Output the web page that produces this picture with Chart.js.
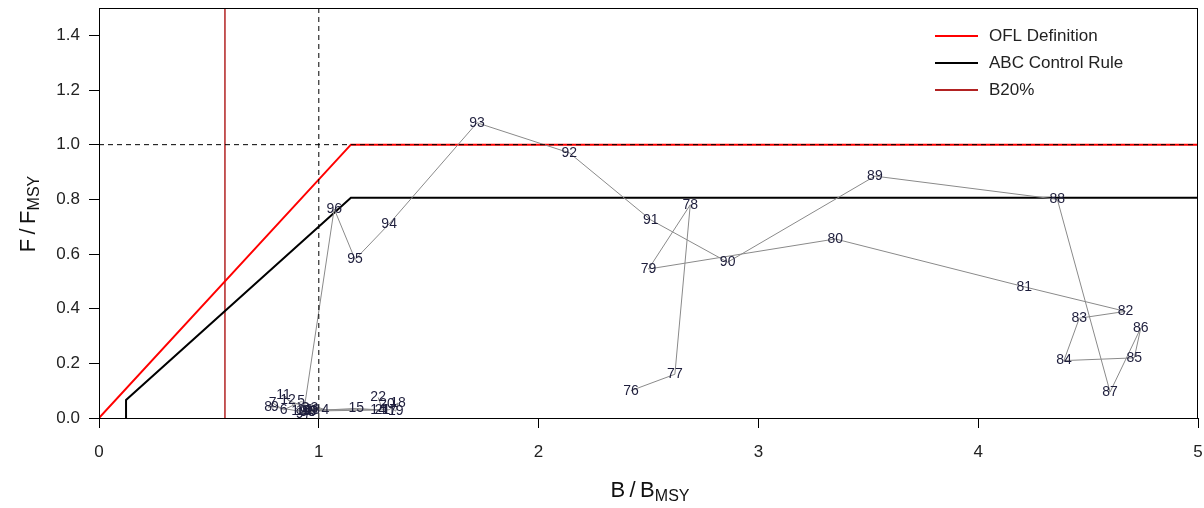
<!DOCTYPE html>
<html>
<head>
<meta charset="utf-8">
<script src="https://cdn.jsdelivr.net/npm/chart.js@4.4.1/dist/chart.umd.min.js"></script>
<style>
html,body{margin:0;padding:0;background:#fff;}
#wrap{width:1204px;height:508px;position:relative;}
</style>
</head>
<body>
<div id="wrap"><canvas id="c"></canvas></div>
<script>
// ---- data ----
const yearLabels = ['76','77','78','79','80','81','82','83','84','85','86','87','88','89','90','91','92','93','94','95','96','97','98','99',
  '0','1','2','3','4','5','6','7','8','9','10','11','12','13','14','15','16','17','18','19','20','21','22'];
const bRatio = [2.42,2.62,2.69,2.50,3.35,4.21,4.67,4.46,4.39,4.71,4.74,4.60,4.36,3.53,2.86,2.51,2.14,1.72,1.32,1.165,1.07,0.93,0.95,0.96,
  0.97,0.96,0.94,0.98,1.03,0.92,0.84,0.79,0.77,0.80,0.91,0.84,0.86,0.97,1.27,1.17,0.93,1.32,1.36,1.35,1.31,1.29,1.27];
const fRatio = [0.10,0.16,0.78,0.545,0.655,0.48,0.39,0.365,0.21,0.22,0.33,0.095,0.80,0.885,0.57,0.725,0.97,1.08,0.71,0.58,0.765,0.015,0.02,0.025,
  0.02,0.03,0.035,0.035,0.03,0.06,0.03,0.055,0.04,0.04,0.025,0.085,0.065,0.03,0.03,0.035,0.025,0.03,0.055,0.025,0.05,0.03,0.075];
const oflB = [0, 1.146, 5];
const oflF = [0, 1.0, 1.0];
const abcB = [0.123, 0.123, 1.146, 5];
const abcF = [0, 0.066, 0.806, 0.806];
const b20 = 0.573;
const xTicks = [0,1,2,3,4,5];
const yTicks = [0,0.2,0.4,0.6,0.8,1.0,1.2,1.4];
const legendItems = [
  {label:'OFL Definition', color:'#FF0000'},
  {label:'ABC Control Rule', color:'#000000'},
  {label:'B20%', color:'#B22222'}
];

const zip = (xs, ys) => xs.map((x,i)=>({x:x, y:ys[i]}));
const FONT = '"Liberation Sans", Arial, sans-serif';

const labelPlugin = {
  id:'labels',
  afterDatasetsDraw(chart){
    const ctx = chart.ctx, xs = chart.scales.x, ys = chart.scales.y;
    ctx.save();
    ctx.font = '14px ' + FONT;
    ctx.fillStyle = '#1e1e3c';
    ctx.textAlign = 'center';
    ctx.textBaseline = 'middle';
    yearLabels.forEach((t,i)=>{
      ctx.fillText(t, xs.getPixelForValue(bRatio[i]), ys.getPixelForValue(fRatio[i]));
    });
    ctx.restore();
  },
  afterDraw(chart){
    const ctx = chart.ctx, a = chart.chartArea;
    ctx.save();
    // box
    ctx.strokeStyle = '#000'; ctx.lineWidth = 1;
    ctx.strokeRect(a.left+0.5, a.top+0.5, a.right-a.left-1, a.bottom-a.top);
    // legend
    ctx.font = '17px ' + FONT;
    ctx.textBaseline = 'middle';
    ctx.textAlign = 'left';
    legendItems.forEach((it,i)=>{
      const y = 36 + i*27;
      ctx.strokeStyle = it.color; ctx.lineWidth = 2;
      ctx.beginPath(); ctx.moveTo(935,y); ctx.lineTo(978,y); ctx.stroke();
      ctx.fillStyle = '#222';
      ctx.fillText(it.label, 989, y);
    });
    // axis titles
    function title(main, sub, big, small){
      const fb = big + 'px ' + FONT, fs = small + 'px ' + FONT;
      ctx.font = fb; const w1 = ctx.measureText(main).width;
      ctx.font = fs; const w2 = ctx.measureText(sub).width;
      return {w:w1+w2, draw(x0, y){
        ctx.font = fb; ctx.fillText(main, x0, y);
        ctx.font = fs; ctx.fillText(sub, x0+w1, y+6);
      }};
    }
    ctx.fillStyle = '#111';
    ctx.textBaseline = 'middle';
    let t = title('B\u2009/\u2009B', 'MSY', 22, 16);
    t.draw(650 - t.w/2, 491);
    ctx.save();
    ctx.translate(29, 214);
    ctx.rotate(-Math.PI/2);
    t = title('F\u2009/\u2009F', 'MSY', 22, 16);
    t.draw(-t.w/2, 0);
    ctx.restore();
    ctx.restore();
  }
};

new Chart(document.getElementById('c'), {
  type:'scatter',
  data:{
    datasets:[
      {data: zip([0,5],[1,1]), showLine:true, borderColor:'#000', borderWidth:1, borderDash:[5,4], pointRadius:0},
      {data: zip([1,1],[0,1.5]), showLine:true, borderColor:'#000', borderWidth:1, borderDash:[5,4], pointRadius:0},
      {data: zip(bRatio, fRatio), showLine:true, borderColor:'#8a8a8a', borderWidth:1, pointRadius:0, tension:0},
      {data: zip(oflB, oflF), showLine:true, borderColor:'#FF0000', borderWidth:2, pointRadius:0},
      {data: zip(abcB, abcF), showLine:true, borderColor:'#000000', borderWidth:2, pointRadius:0},
      {data: zip([b20,b20],[0,1.5]), showLine:true, borderColor:'#B22222', borderWidth:1.5, pointRadius:0}
    ]
  },
  options:{
    responsive:true, maintainAspectRatio:false, animation:false,
    layout:{padding:{top:8, right:6, left:0, bottom:0}},
    plugins:{legend:{display:false}, tooltip:{enabled:false}},
    scales:{
      x:{type:'linear', min:0, max:5,
        afterBuildTicks: s => { s.ticks = xTicks.map(v=>({value:v})); },
        afterFit: s => { s.height = 90; s.paddingLeft = 0; s.paddingRight = 0; },
        grid:{display:true, drawOnChartArea:false, drawTicks:true, tickLength:10, color:'#000'},
        border:{display:true, color:'#000', width:1},
        ticks:{padding:14, color:'#222', font:{family:FONT, size:17}, maxRotation:0, callback:v=>String(v)}
      },
      y:{type:'linear', min:0, max:1.5,
        afterBuildTicks: s => { s.ticks = yTicks.map(v=>({value:v})); },
        afterFit: s => { s.width = 99; s.paddingTop = 0; s.paddingBottom = 0; },
        grid:{display:true, drawOnChartArea:false, drawTicks:true, tickLength:10, color:'#000'},
        border:{display:true, color:'#000', width:1},
        ticks:{padding:9, color:'#222', font:{family:FONT, size:17}, callback:v=>Number(v).toFixed(1)}
      }
    }
  },
  plugins:[labelPlugin]
});
</script>
</body>
</html>
